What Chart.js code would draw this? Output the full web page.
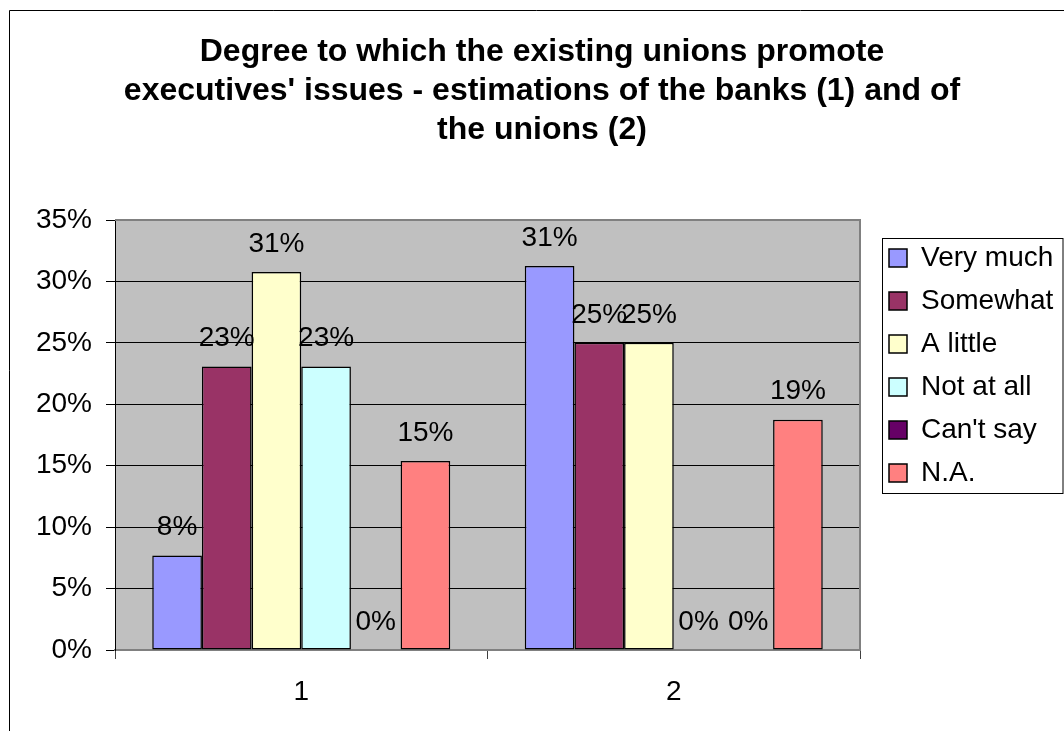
<!DOCTYPE html>
<html>
<head>
<meta charset="utf-8">
<script src="https://cdn.jsdelivr.net/npm/chart.js@4.4.0/dist/chart.umd.min.js"></script>
<style>
  html, body { margin: 0; padding: 0; background: #fff; }
  #chart { position: absolute; left: 0; top: 0; }
</style>
</head>
<body>
<canvas id="chart" width="1064" height="731"></canvas>
<script>
// data (percent of respondents)
const categories = ['1', '2'];
const seriesNames = ['Very much', 'Somewhat', 'A little', 'Not at all', "Can't say", 'N.A.'];
const veryMuch = [7.69, 31.25];
const somewhat = [23.08, 25];
const aLittle = [30.77, 25];
const notAtAll = [23.08, 0];
const cantSay = [0, 0];
const notAnswered = [15.38, 18.75];
const seriesColors = ['#9999FF', '#993366', '#FFFFCC', '#CCFFFF', '#660066', '#FF8080'];
const yMax = 35;
const yStep = 5;

const titleLines = [
  'Degree to which the existing unions promote',
  "executives' issues - estimations of the banks (1) and of",
  'the unions (2)'
];

const FONT = '"Liberation Sans", Arial, sans-serif';
const seriesValues = [veryMuch, somewhat, aLittle, notAtAll, cantSay, notAnswered];

// grey plot area, outer frame and legend frame like the old Excel look
const frames = {
  id: 'frames',
  beforeDraw(chart) {
    const { ctx, chartArea: a } = chart;
    ctx.save();
    ctx.fillStyle = '#C0C0C0';
    ctx.fillRect(a.left, a.top, a.right - a.left, a.bottom - a.top);
    ctx.strokeStyle = '#000';
    ctx.lineWidth = 1;
    ctx.beginPath();
    ctx.moveTo(9.5, chart.height);
    ctx.lineTo(9.5, 10.5);
    ctx.lineTo(chart.width, 10.5);
    ctx.stroke();
    ctx.restore();
  },
  beforeDatasetsDraw(chart) {
    const { ctx, chartArea: a } = chart;
    ctx.save();
    ctx.strokeStyle = '#808080';
    ctx.lineWidth = 2;
    ctx.beginPath();
    ctx.moveTo(a.left, a.top);
    ctx.lineTo(a.right, a.top);
    ctx.lineTo(a.right, a.bottom);
    ctx.stroke();
    ctx.restore();
  },
  afterDraw(chart) {
    const boxes = chart.legend && chart.legend.legendHitBoxes;
    if (!boxes || !boxes.length) return;
    const first = boxes[0];
    const last = boxes[boxes.length - 1];
    const ctx = chart.ctx;
    ctx.save();
    ctx.strokeStyle = '#000';
    ctx.lineWidth = 1;
    const l = Math.round(first.left - 7) + 0.5;
    const t = Math.round(first.top - 6) + 0.5;
    const b = Math.round(last.top + last.height + 6) + 0.5;
    ctx.strokeRect(l, t, chart.width - 1 - l, b - t);
    ctx.restore();
  }
};

// value labels above each bar
const valueLabels = {
  id: 'valueLabels',
  afterDatasetsDraw(chart) {
    const ctx = chart.ctx;
    ctx.save();
    ctx.font = '28px ' + FONT;
    ctx.fillStyle = '#000';
    ctx.textAlign = 'center';
    ctx.textBaseline = 'middle';
    chart.data.datasets.forEach((ds, i) => {
      chart.getDatasetMeta(i).data.forEach((bar, j) => {
        ctx.fillText(Math.round(ds.data[j]) + '%', bar.x, bar.y - 28);
      });
    });
    ctx.restore();
  }
};

new Chart(document.getElementById('chart'), {
  type: 'bar',
  data: {
    labels: categories,
    datasets: seriesNames.map((name, i) => ({
      label: name,
      data: seriesValues[i],
      backgroundColor: seriesColors[i],
      borderColor: '#000',
      borderWidth: 1.5,
      borderSkipped: false,
      categoryPercentage: 0.8,
      barPercentage: 1.0,
      yAxisID: 'y'
    }))
  },
  options: {
    responsive: false,
    animation: false,
    devicePixelRatio: 1,
    layout: { padding: { left: 30, right: 10, top: 0, bottom: 0 } },
    scales: {
      x: {
        grid: { drawOnChartArea: false, tickLength: 9, tickColor: '#404040', offset: true },
        border: { color: '#808080', width: 2 },
        ticks: { color: '#000', font: { family: FONT, size: 28 }, padding: 16 },
        afterFit(scale) { scale.height = 81; }
      },
      y: {
        min: 0,
        max: yMax,
        grid: { color: '#000', lineWidth: 1, tickLength: 9, tickColor: '#000' },
        border: { color: '#000', width: 1 },
        ticks: {
          stepSize: yStep,
          color: '#000',
          font: { family: FONT, size: 28 },
          padding: 14,
          callback: (v) => v + '%'
        },
        afterFit(scale) { scale.width = 85; }
      },
      gap: {
        position: 'right',
        display: true,
        grid: { display: false },
        border: { display: false },
        ticks: { display: false },
        afterFit(scale) { scale.width = 14; }
      }
    },
    plugins: {
      title: {
        display: true,
        text: titleLines,
        color: '#000',
        font: { family: FONT, size: 32, weight: 'bold', lineHeight: '39px' },
        padding: { top: 33, bottom: 70 }
      },
      legend: {
        display: true,
        position: 'right',
        maxWidth: 180,
        labels: {
          color: '#000',
          font: { family: FONT, size: 28 },
          boxWidth: 18,
          boxHeight: 18,
          padding: 15
        }
      },
      tooltip: { enabled: false }
    }
  },
  plugins: [frames, valueLabels]
});
</script>
</body>
</html>
